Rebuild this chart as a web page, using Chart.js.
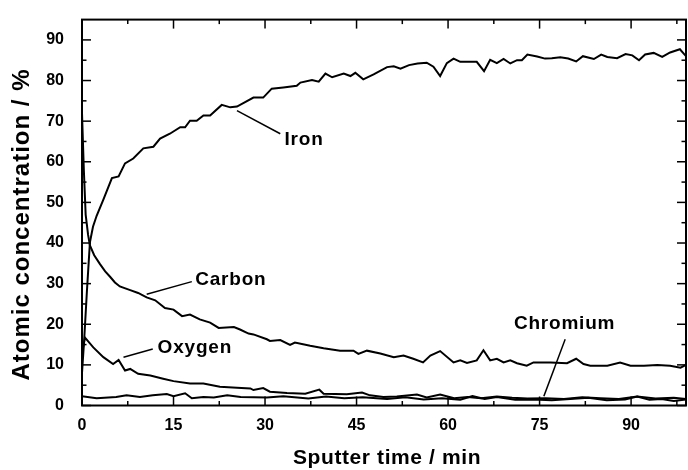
<!DOCTYPE html>
<html>
<head>
<meta charset="utf-8">
<script src="https://cdn.jsdelivr.net/npm/chart.js@4.4.0/dist/chart.umd.min.js"></script>
<style>
  html, body { margin: 0; padding: 0; background: #fff; }
  #chart { display: block; }
</style>
</head>
<body>
<canvas id="chart" width="688" height="470"></canvas>
<script>
// Valores (tempo em min, concentração em %)
const ironTime = [0, 0.35, 0.8, 1.3, 1.8, 2.4, 3.5, 4.9, 6.0, 7.05, 8.4, 10.05, 11.7, 12.8, 14.4, 16.1, 16.9, 17.7, 18.8, 19.9, 21, 22.9, 24.3, 25.4, 28.1, 29.7, 31.1, 33, 35.2, 35.8, 37.7, 38.8, 39.9, 41, 42.9, 44, 44.8, 46.1, 47.8, 50, 51.1, 52.2, 53.6, 55, 56.5, 57.6, 58.7, 59.8, 60.9, 62, 64.7, 65.9, 66.9, 68, 69.1, 70.2, 71.3, 72.1, 73, 74.6, 75.9, 77, 78.4, 79.7, 81, 82.1, 83.9, 85.1, 86.1, 87.7, 89.1, 90.2, 91.3, 92.3, 93.7, 95.1, 96.4, 98, 99];
const iron = [8, 16, 28, 40.2, 44, 46.7, 50.7, 56, 56.4, 59.6, 60.8, 63.3, 63.7, 65.7, 66.9, 68.5, 68.5, 70.1, 70.1, 71.4, 71.4, 74, 73.4, 73.6, 75.8, 75.8, 78, 78.3, 78.7, 79.5, 80.1, 79.7, 81.7, 80.8, 81.7, 81.1, 81.9, 80.3, 81.5, 83.3, 83.5, 82.9, 83.8, 84.2, 84.4, 83.4, 81.1, 84.3, 85.4, 84.6, 84.6, 82.3, 85.1, 84.3, 85.3, 84.2, 85, 85, 86.4, 85.9, 85.4, 85.5, 85.7, 85.4, 84.7, 86, 85.3, 86.4, 85.8, 85.5, 86.5, 86.2, 85, 86.4, 86.8, 85.8, 86.9, 87.7, 86];

const carbonTime = [0, 0.3, 0.6, 1.0, 1.3, 2.0, 2.95, 3.8, 4.6, 5.4, 6.2, 7.9, 9.2, 10.6, 12.0, 13.6, 15, 16.4, 17.7, 19.3, 21, 22.4, 24.9, 25.9, 27.3, 28.1, 30.3, 30.8, 32.5, 34.1, 34.9, 37.4, 39.6, 42.3, 44.5, 45.3, 46.7, 48.9, 51.1, 52.7, 54.3, 55.9, 57.1, 58.7, 60.9, 62, 63.1, 64.7, 65.8, 66.9, 68, 69.1, 70.2, 71.3, 72.9, 74, 76.8, 79.5, 81, 82.2, 83.3, 86.1, 88.2, 89.9, 92.1, 94.3, 96.4, 98.1, 99];
const carbon = [72, 58, 47, 42, 39.4, 37, 34.8, 33, 31.7, 30.3, 29.3, 28.4, 27.7, 26.6, 25.9, 24.0, 23.6, 22, 22.4, 21.2, 20.4, 19.1, 19.3, 18.7, 17.7, 17.5, 16.3, 15.9, 16.1, 14.9, 15.5, 14.7, 14.1, 13.5, 13.5, 12.7, 13.5, 12.8, 11.9, 12.3, 11.5, 10.6, 12.3, 13.4, 10.6, 11.1, 10.5, 11.1, 13.6, 11.1, 11.5, 10.6, 11.1, 10.4, 9.8, 10.6, 10.6, 10.4, 11.5, 10.2, 9.8, 9.8, 10.6, 9.8, 9.8, 10, 9.8, 9.3, 10];

const oxygenTime = [0, 0.5, 1.85, 3.5, 5.1, 6.0, 7.05, 7.9, 9.2, 11.2, 13.3, 15, 17.7, 19.9, 22.6, 25.4, 27.6, 28.1, 29.7, 30.8, 33.6, 36.6, 38.9, 39.6, 43.4, 45.9, 47.2, 49.4, 51.6, 54.9, 56.5, 58.7, 61, 63.2, 65.4, 68, 70.5, 73, 76, 79, 82, 85, 88, 91, 94, 97, 99];
const oxygen = [13, 16.7, 14.3, 11.9, 10.2, 11.2, 8.6, 9, 7.8, 7.4, 6.6, 6, 5.4, 5.4, 4.6, 4.4, 4.2, 3.8, 4.3, 3.4, 3.1, 2.9, 3.9, 2.9, 2.8, 3.2, 2.5, 2.1, 2.2, 2.7, 2, 2.7, 1.8, 2.1, 1.8, 2.2, 1.9, 1.7, 1.8, 1.6, 2, 1.8, 1.6, 2.2, 1.7, 1.9, 1.6];

const chromiumTime = [0, 2.4, 5.6, 7.3, 9.5, 11.6, 13.9, 15, 16.9, 18, 19.9, 21.6, 23.8, 26, 30.3, 33, 37.1, 40, 43, 46, 50, 53, 56, 59, 62, 64, 66, 68, 71, 74, 77, 80, 83, 86, 89, 91, 93, 95, 97, 99];
const chromium = [2.3, 1.8, 2.1, 2.5, 2.1, 2.5, 2.8, 2.3, 3, 1.8, 2.1, 2, 2.5, 2.1, 2.0, 2.3, 1.7, 2.2, 1.8, 2.0, 1.6, 2, 1.5, 1.8, 1.4, 2.3, 1.6, 2.1, 1.4, 1.5, 1.3, 1.6, 1.9, 1.3, 1.5, 2.2, 1.4, 1.6, 1.1, 1.5];

// Marcas dos eixos
const xTicks = [0, 15, 30, 45, 60, 75, 90];
const yTicks = [0, 10, 20, 30, 40, 50, 60, 70, 80, 90];

// Rótulos das curvas: nome, posição do texto e linha de chamada (em unidades dos dados)
const seriesNames = ["Iron", "Carbon", "Oxygen", "Chromium"];
const labelAt = [[36.4, 65.5], [24.4, 31.0], [18.5, 14.2], [79.1, 20.0]];
const leaderFrom = [[25.4, 72.6], [10.6, 27.4], [6.8, 11.9], [79.2, 16.3]];
const leaderTo = [[32.5, 66.9], [18, 30.5], [11.6, 13.9], [75.7, 2.3]];

const FONT = '"Liberation Sans", Arial, Helvetica, sans-serif';

function toPoints(xs, ys) {
    return xs.map((t, i) => ({ x: t, y: ys[i] }));
}

function serie(label, xs, ys) {
    return {
        label: label,
        data: toPoints(xs, ys),
        borderColor: '#000',
        borderWidth: 2,
        pointRadius: 0,
        tension: 0,
        fill: false
    };
}

// Moldura, marcas internas, títulos e rótulos
const frame = {
    id: 'frame',
    afterDraw(chart) {
        const ctx = chart.ctx;
        const a = chart.chartArea;
        const x = chart.scales.x;
        const y = chart.scales.y;

        function line(x1, y1, x2, y2) {
            ctx.beginPath();
            ctx.moveTo(x1, y1);
            ctx.lineTo(x2, y2);
            ctx.stroke();
        }

        ctx.save();
        ctx.strokeStyle = '#000';
        ctx.lineWidth = 1.5;

        // marcas do eixo x (principais e secundárias), em baixo e em cima
        xTicks.forEach(v => {
            const px = x.getPixelForValue(v);
            line(px, a.bottom, px, a.bottom - 9);
            line(px, a.top, px, a.top + 9);
            const mid = v + (xTicks[1] - xTicks[0]) / 2;
            if (mid < x.max) {
                const pm = x.getPixelForValue(mid);
                line(pm, a.bottom, pm, a.bottom - 4.5);
                line(pm, a.top, pm, a.top + 4.5);
            }
        });

        // marcas do eixo y, à esquerda e à direita
        yTicks.forEach(v => {
            const py = y.getPixelForValue(v);
            line(a.left, py, a.left + 9, py);
            line(a.right, py, a.right - 9, py);
            const mid = v + (yTicks[1] - yTicks[0]) / 2;
            if (mid < y.max) {
                const pm = y.getPixelForValue(mid);
                line(a.left, pm, a.left + 4.5, pm);
                line(a.right, pm, a.right - 4.5, pm);
            }
        });

        ctx.lineWidth = 2;
        ctx.strokeRect(a.left, a.top, a.right - a.left, a.bottom - a.top);

        // linhas de chamada e nomes das curvas
        ctx.lineWidth = 1.5;
        ctx.fillStyle = '#000';
        ctx.font = 'bold 19px ' + FONT;
        ctx.textAlign = 'center';
        ctx.textBaseline = 'middle';
        ctx.letterSpacing = '0.8px';
        seriesNames.forEach((name, i) => {
            line(x.getPixelForValue(leaderFrom[i][0]), y.getPixelForValue(leaderFrom[i][1]),
                 x.getPixelForValue(leaderTo[i][0]), y.getPixelForValue(leaderTo[i][1]));
            ctx.fillText(name, x.getPixelForValue(labelAt[i][0]), y.getPixelForValue(labelAt[i][1]));
        });

        // títulos dos eixos
        ctx.font = 'bold 21px ' + FONT;
        ctx.letterSpacing = '0.6px';
        ctx.fillText('Sputter time / min', (a.left + a.right) / 2 + 3, 458);

        ctx.translate(22, (a.top + a.bottom) / 2 + 12);
        ctx.rotate(-Math.PI / 2);
        ctx.font = 'bold 24px ' + FONT;
        ctx.letterSpacing = '1px';
        ctx.fillText('Atomic concentration / %', 0, 0);
        ctx.restore();
    }
};

new Chart(document.getElementById('chart').getContext('2d'), {
    type: 'line',
    data: {
        datasets: [
            serie('Iron', ironTime, iron),
            serie('Carbon', carbonTime, carbon),
            serie('Oxygen', oxygenTime, oxygen),
            serie('Chromium', chromiumTime, chromium)
        ]
    },
    options: {
        responsive: false,
        animation: false,
        devicePixelRatio: 1,
        layout: { padding: { top: 14, right: 2, left: 0, bottom: 0 } },
        plugins: {
            legend: { display: false },
            tooltip: { enabled: false }
        },
        scales: {
            x: {
                type: 'linear',
                min: 0,
                max: 99,
                grid: { display: false },
                border: { display: false },
                afterBuildTicks: scale => { scale.ticks = xTicks.map(v => ({ value: v })); },
                afterFit: scale => { scale.height = 64.5; },
                ticks: {
                    color: '#000',
                    padding: 2,
                    maxRotation: 0,
                    font: { family: FONT, size: 16, weight: 'bold' }
                }
            },
            y: {
                type: 'linear',
                min: 0,
                max: 95,
                grid: { display: false },
                border: { display: false },
                afterBuildTicks: scale => { scale.ticks = yTicks.map(v => ({ value: v })); },
                afterFit: scale => { scale.width = 82; },
                ticks: {
                    color: '#000',
                    padding: 10,
                    font: { family: FONT, size: 16, weight: 'bold' }
                }
            }
        }
    },
    plugins: [frame]
});
</script>
</body>
</html>
